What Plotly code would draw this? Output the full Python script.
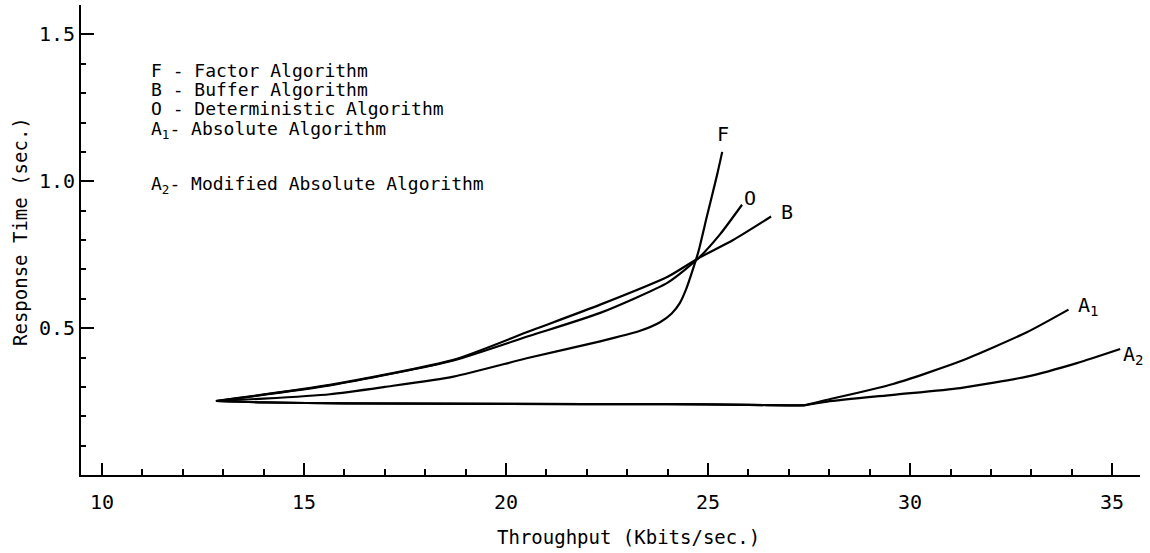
import plotly.graph_objects as go

FONT = "DejaVu Sans Mono"

# ---- data: Throughput (Kbits/sec.) vs Response Time (sec.) ----
f_x = [12.82, 14.0, 15.64, 17.0, 18.70, 20.59, 22.33, 23.3, 23.81, 24.1, 24.3, 24.45, 24.6, 24.76, 24.97, 25.22, 25.35]
f_y = [0.252, 0.260, 0.275, 0.300, 0.335, 0.400, 0.455, 0.490, 0.520, 0.550, 0.585, 0.630, 0.690, 0.760, 0.880, 1.020, 1.100]

b_x = [12.82, 15.64, 18.70, 20.59, 22.33, 24.0, 24.76, 25.62, 26.56]
b_y = [0.252, 0.307, 0.392, 0.490, 0.580, 0.675, 0.738, 0.800, 0.880]

o_x = [12.82, 15.64, 18.70, 20.59, 22.33, 24.0, 24.76, 25.3, 25.84]
o_y = [0.252, 0.305, 0.390, 0.474, 0.552, 0.655, 0.738, 0.820, 0.920]

base_x = [12.82, 14.0, 16.0, 20.0, 24.0, 26.0, 27.0, 27.4]
base_y = [0.252, 0.247, 0.244, 0.242, 0.241, 0.239, 0.237, 0.238]

a1_x = [27.95, 29.58, 31.24, 32.89, 33.92]
a1_y = [0.256, 0.310, 0.387, 0.486, 0.563]

a2_x = [27.95, 29.58, 31.24, 32.89, 34.13, 35.2]
a2_y = [0.250, 0.273, 0.296, 0.335, 0.381, 0.429]

x_ticks = [10, 15, 20, 25, 30, 35]
y_ticks = [0.5, 1.0, 1.5]
y_tick_text = ["0.5", "1.0", "1.5"]

curve_labels = ["F", "O", "B", "A<sub>1</sub>", "A<sub>2</sub>"]
curve_label_x = [25.37, 26.04, 26.96, 34.41, 35.52]
curve_label_y = [1.160, 0.943, 0.895, 0.575, 0.410]

legend_lines = [
    "F - Factor Algorithm",
    "B - Buffer Algorithm",
    "O - Deterministic Algorithm",
    "A<sub>1</sub>- Absolute Algorithm",
    "A<sub>2</sub>- Modified Absolute Algorithm",
]
legend_y_px = [70, 89, 108, 130, 185]

x_title = "Throughput (Kbits/sec.)"
y_title = "Response Time (sec.)"

# ---- figure ----
fig = go.Figure()
line_style = dict(color="black", width=2.2, shape="spline", smoothing=0.6)

fig.add_trace(go.Scatter(x=f_x, y=f_y, mode="lines", line=line_style, name="F"))
fig.add_trace(go.Scatter(x=b_x, y=b_y, mode="lines", line=line_style, name="B"))
fig.add_trace(go.Scatter(x=o_x, y=o_y, mode="lines", line=line_style, name="O"))
fig.add_trace(go.Scatter(x=base_x + a1_x, y=base_y + a1_y, mode="lines", line=line_style, name="A1"))
fig.add_trace(go.Scatter(x=base_x + a2_x, y=base_y + a2_y, mode="lines", line=line_style, name="A2"))

W, H = 1150, 553
L, R, T, B = 81, 10, 5, 78
plot_w = W - L - R
plot_h = H - T - B

for txt, lx, ly in zip(curve_labels, curve_label_x, curve_label_y):
    fig.add_annotation(x=lx, y=ly, xref="x", yref="y", text=txt, showarrow=False,
                       font=dict(family=FONT, size=20, color="black"),
                       xanchor="center", yanchor="middle")

for txt, py in zip(legend_lines, legend_y_px):
    fig.add_annotation(x=(150 - L) / plot_w, y=(H - B - py) / plot_h, xref="paper", yref="paper",
                       text=txt, showarrow=False, font=dict(family=FONT, size=18, color="black"),
                       xanchor="left", yanchor="middle", borderpad=0)

fig.add_annotation(x=(628 - L) / plot_w, y=(H - B - 537) / plot_h, xref="paper", yref="paper",
                   text=x_title, showarrow=False, font=dict(family=FONT, size=19, color="black"),
                   xanchor="center", yanchor="middle")
fig.add_annotation(x=(20 - L) / plot_w, y=(H - B - 232) / plot_h, xref="paper", yref="paper",
                   text=y_title, textangle=-90, showarrow=False,
                   font=dict(family=FONT, size=19, color="black"),
                   xanchor="center", yanchor="middle")

fig.update_layout(
    width=W, height=H,
    margin=dict(l=L, r=R, t=T, b=B, pad=0),
    paper_bgcolor="white", plot_bgcolor="white",
    showlegend=False,
    font=dict(family=FONT, size=20, color="black"),
)
fig.update_xaxes(
    range=[9.48, 35.69], showgrid=False, zeroline=False,
    showline=True, linecolor="black", linewidth=2,
    tickmode="array", tickvals=x_ticks, ticks="inside", ticklen=12, tickwidth=2, tickcolor="black",
    ticklabelstandoff=8,
    minor=dict(dtick=1, tick0=10, ticks="inside", ticklen=6, tickwidth=1.5, tickcolor="black", showgrid=False),
    tickfont=dict(family=FONT, size=20, color="black"),
)
fig.update_yaxes(
    range=[0, 1.6], showgrid=False, zeroline=False,
    showline=True, linecolor="black", linewidth=2,
    tickmode="array", tickvals=y_ticks, ticktext=y_tick_text,
    ticks="inside", ticklen=13, tickwidth=2, tickcolor="black",
    minor=dict(dtick=0.1, tick0=0, ticks="inside", ticklen=5, tickwidth=1.5, tickcolor="black", showgrid=False),
    tickfont=dict(family=FONT, size=20, color="black"),
)

fig.write_html("out.html")
